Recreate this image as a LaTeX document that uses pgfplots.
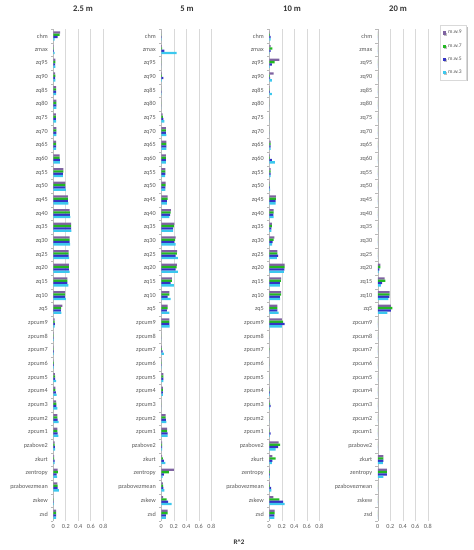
\documentclass[border=0pt]{standalone}
\usepackage{pgfplots}
\pgfplotsset{compat=1.18}
\usepackage{pgfplotstable}
\usepackage{fontspec}
\setmainfont{Carlito}
\usetikzlibrary{shadows}

\definecolor{mwnine}{HTML}{7F63A1}
\definecolor{mwseven}{HTML}{22B822}
\definecolor{mwfive}{HTML}{3434C4}
\definecolor{mwthree}{HTML}{3CC8EE}
\definecolor{gridgray}{HTML}{D9D9D9}
\definecolor{labgray}{HTML}{595959}

% columns: category index (0 = chm at the top), then m.w.9 m.w.7 m.w.5 m.w.3
\pgfplotstableread{
i  a     b     c     d
0  0.11  0.10  0.07  0.02
1  0.005 0.005 0.01  0.02
2  0.035 0.035 0.03  0.035
3  0.03  0.035 0.03  0.035
4  0.045 0.045 0.045 0.045
5  0.05  0.05  0.05  0.05
6  0.04  0.04  0.04  0.045
7  0.05  0.05  0.05  0.05
8  0.045 0.045 0.045 0.045
9  0.10  0.10  0.105 0.105
10 0.16  0.16  0.155 0.155
11 0.195 0.195 0.195 0.20
12 0.235 0.235 0.235 0.24
13 0.26  0.265 0.265 0.275
14 0.285 0.285 0.285 0.29
15 0.26  0.26  0.26  0.27
16 0.245 0.245 0.245 0.255
17 0.25  0.25  0.25  0.26
18 0.225 0.225 0.225 0.24
19 0.19  0.19  0.185 0.20
20 0.145 0.125 0.12  0.13
21 0.02  0.02  0.025 0.02
22 0.005 0.005 0.005 0.01
23 0.005 0.005 0.01  0.01
24 0.005 0.01  0.01  0.01
25 0.025 0.03  0.03  0.045
26 0.035 0.035 0.04  0.055
27 0.045 0.05  0.05  0.065
28 0.065 0.065 0.07  0.085
29 0.065 0.065 0.07  0.08
30 0.02  0.02  0.025 0.03
31 0.015 0.015 0.02  0.02
32 0.07  0.075 0.055 0.06
33 0.065 0.07  0.07  0.09
34 0.003 0.005 0.005 0.01
35 0.045 0.045 0.045 0.045
}\tabA

\pgfplotstableread{
i  a     b     c     d
0  0.003 0.003 0.005 0.005
1  0.01  0.015 0.05  0.245
2  0.003 0.003 0.003 0.003
3  0.01  0.01  0.035 0.01
4  0.003 0.003 0.005 0.005
5  0.002 0.002 0.002 0.002
6  0.02  0.025 0.035 0.05
7  0.075 0.075 0.075 0.08
8  0.08  0.08  0.08  0.08
9  0.075 0.075 0.075 0.075
10 0.065 0.065 0.065 0.06
11 0.07  0.07  0.065 0.065
12 0.10  0.10  0.09  0.09
13 0.155 0.15  0.14  0.13
14 0.21  0.20  0.19  0.19
15 0.23  0.22  0.21  0.23
16 0.255 0.25  0.23  0.265
17 0.25  0.245 0.23  0.265
18 0.17  0.17  0.15  0.20
19 0.13  0.13  0.10  0.15
20 0.10  0.10  0.09  0.13
21 0.13  0.13  0.13  0.135
22 0.003 0.003 0.003 0.003
23 0.01  0.01  0.02  0.04
24 0.005 0.005 0.005 0.005
25 0.035 0.035 0.035 0.035
26 0.025 0.025 0.025 0.025
27 0.003 0.003 0.003 0.003
28 0.07  0.07  0.075 0.08
29 0.095 0.095 0.10  0.10
30 0.015 0.015 0.015 0.015
31 0.015 0.025 0.04  0.065
32 0.20  0.12  0.04  0.02
33 0.025 0.03  0.035 0.05
34 0.03  0.085 0.11  0.165
35 0.10  0.10  0.075 0.075
}\tabB

\pgfplotstableread{
i  a     b     c     d
0  0.005 0.01  0.02  0.02
1  0.02  0.05  0.02  0.005
2  0.16  0.085 0.04  0.01
3  0.07  0.01  0.015 0.04
4  0.005 0.005 0.01  0.04
5  0.003 0.003 0.003 0.003
6  0.003 0.003 0.003 0.003
7  0     0     0     0
8  0.02  0.02  0.02  0.02
9  0.01  0.01  0.04  0.09
10 0.02  0.02  0.02  0.02
11 0.005 0.005 0.01  0.015
12 0.105 0.105 0.10  0.10
13 0.07  0.07  0.065 0.07
14 0.04  0.04  0.035 0.035
15 0.08  0.07  0.055 0.045
16 0.13  0.13  0.14  0.12
17 0.245 0.245 0.24  0.235
18 0.19  0.185 0.17  0.17
19 0.19  0.19  0.17  0.175
20 0.13  0.13  0.13  0.15
21 0.20  0.22  0.245 0.20
22 0.003 0.003 0.003 0.003
23 0.003 0.005 0.003 0.003
24 0.002 0.002 0.002 0.002
25 0.002 0.002 0.002 0.002
26 0.005 0.005 0.01  0.01
27 0.01  0.015 0.02  0.01
28 0.002 0.002 0.002 0.002
29 0.005 0.005 0.02  0.01
30 0.15  0.175 0.14  0.10
31 0.05  0.10  0.05  0.04
32 0.01  0.01  0.01  0.01
33 0.01  0.01  0.03  0.035
34 0.065 0.16  0.22  0.245
35 0.085 0.085 0.08  0.08
}\tabC

\pgfplotstableread{
i  a     b     c     d
0  0     0     0     0
1  0     0     0     0
2  0     0     0     0
3  0     0     0     0
4  0     0     0     0
5  0     0     0     0
6  0     0     0     0
7  0     0     0     0
8  0     0     0     0
9  0     0     0     0
10 0     0     0     0
11 0     0     0     0
12 0     0     0     0
13 0     0     0     0
14 0     0     0     0
15 0.003 0.003 0.003 0.003
16 0.003 0.003 0.003 0.003
17 0.04  0.04  0.025 0.015
18 0.11  0.12  0.07  0.05
19 0.19  0.19  0.185 0.17
20 0.21  0.235 0.21  0.155
21 0     0     0     0
22 0     0     0     0
23 0     0     0     0
24 0     0     0     0
25 0     0     0     0
26 0     0     0     0
27 0     0     0     0
28 0     0     0     0
29 0     0     0     0
30 0     0     0     0
31 0.09  0.09  0.09  0.08
32 0.145 0.145 0.145 0.09
33 0     0     0     0
34 0     0     0     0
35 0     0     0     0
}\tabD

\pgfplotsset{
  panel/.style={
    scale only axis, width=50pt, height=492pt, anchor=south west,
    xbar=0pt, bar width=2.3pt,
    xmin=0, xmax=0.8, ymin=-0.5, ymax=35.5, y dir=reverse,
    axis y line*=left, axis x line*=bottom,
    x axis line style={draw=none},
    y axis line style={-, draw=gray!55},
    xtick={0,0.2,0.4,0.6,0.8},
    xmajorgrids, major grid style={gridgray, line width=0.6pt},
    ytick={0,...,35},
    yticklabels={chm,zmax,zq95,zq90,zq85,zq80,zq75,zq70,zq65,zq60,zq55,zq50,zq45,zq40,zq35,zq30,zq25,zq20,zq15,zq10,zq5,zpcum9,zpcum8,zpcum7,zpcum6,zpcum5,zpcum4,zpcum3,zpcum2,zpcum1,pzabove2,zkurt,zentropy,pzabovezmean,zskew,zsd},
    minor ytick={-0.5,0.5,...,35.5},
    major tick length=0pt, minor tick length=2.5pt, tick align=outside,
    minor tick style={gray!55},
    /pgf/number format/assume math mode=true,
    ticklabel style={font=\fontsize{6.2}{7}\selectfont, text=labgray},
    yticklabel style={xshift=-2pt},
    legend image code/.code={\fill[##1] (0pt,-1.6pt) rectangle (3.2pt,1.6pt);},
  },
  % y dir=reverse flips the shift, so the first series gets the positive one
  bars/.style 2 args={fill=#1, draw=none, bar shift=#2},
}

\begin{document}
\begin{tikzpicture}
\path[use as bounding box] (0,0) rectangle (474pt,550pt);

\begin{axis}[panel, at={(53.3pt,28.9pt)}]
  \addplot[bars={mwnine}{3.45pt}]   table[x=a, y=i] {\tabA};
  \addplot[bars={mwseven}{1.15pt}]  table[x=b, y=i] {\tabA};
  \addplot[bars={mwfive}{-1.15pt}]  table[x=c, y=i] {\tabA};
  \addplot[bars={mwthree}{-3.45pt}] table[x=d, y=i] {\tabA};
\end{axis}

\begin{axis}[panel, at={(161.3pt,28.9pt)}]
  \addplot[bars={mwnine}{3.45pt}]   table[x=a, y=i] {\tabB};
  \addplot[bars={mwseven}{1.15pt}]  table[x=b, y=i] {\tabB};
  \addplot[bars={mwfive}{-1.15pt}]  table[x=c, y=i] {\tabB};
  \addplot[bars={mwthree}{-3.45pt}] table[x=d, y=i] {\tabB};
\end{axis}

\begin{axis}[panel, at={(269.3pt,28.9pt)}]
  \addplot[bars={mwnine}{3.45pt}]   table[x=a, y=i] {\tabC};
  \addplot[bars={mwseven}{1.15pt}]  table[x=b, y=i] {\tabC};
  \addplot[bars={mwfive}{-1.15pt}]  table[x=c, y=i] {\tabC};
  \addplot[bars={mwthree}{-3.45pt}] table[x=d, y=i] {\tabC};
\end{axis}

\begin{axis}[panel, at={(377.8pt,28.9pt)},
  legend style={at={(1.24,1.008)}, anchor=north west, draw=gray!30, fill=white,
    font=\fontsize{5.5}{6}\selectfont, text=labgray, row sep=4.2pt,
    inner xsep=3pt, inner ysep=3pt, cells={anchor=west},
    drop shadow={shadow xshift=1.2pt, shadow yshift=-1.2pt, fill=gray, opacity=0.5}}]
  \addplot[bars={mwnine}{3.45pt}]   table[x=a, y=i] {\tabD};
  \addplot[bars={mwseven}{1.15pt}]  table[x=b, y=i] {\tabD};
  \addplot[bars={mwfive}{-1.15pt}]  table[x=c, y=i] {\tabD};
  \addplot[bars={mwthree}{-3.45pt}] table[x=d, y=i] {\tabD};
  \legend{m.w.9, m.w.7, m.w.5, m.w.3}
\end{axis}

\begin{scope}[every node/.style={font=\fontsize{8.6}{10}\bfseries, text=black!80}]
  \node at (83pt,541pt) {2.5 m};
  \node at (187pt,541pt) {5 m};
  \node at (292pt,541pt) {10 m};
  \node at (398pt,541pt) {20 m};
\end{scope}
\node[font=\fontsize{7}{8}\bfseries, text=black!80] at (239pt,8.3pt) {R\textasciicircum{}2};
\end{tikzpicture}
\end{document}
